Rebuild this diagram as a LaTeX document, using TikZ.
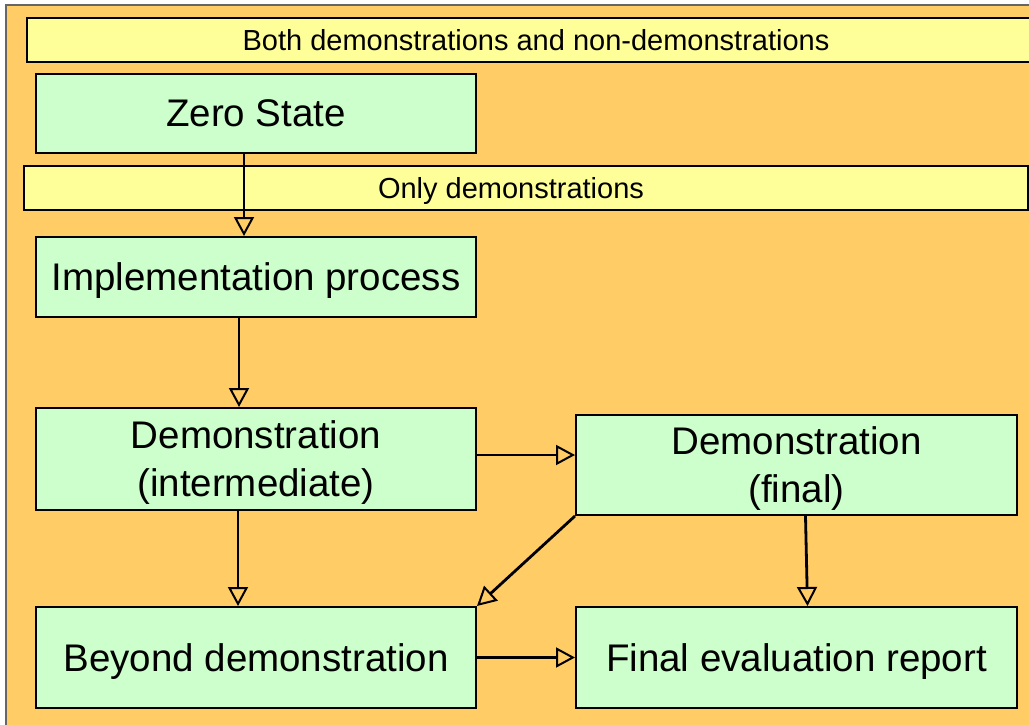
\documentclass[tikz,border=0pt]{standalone}
\usepackage{fontspec}
\setmainfont{Liberation Sans}
\usetikzlibrary{arrows.meta}
\usetikzlibrary{positioning}
\definecolor{bgorange}{HTML}{FFCC66}
\definecolor{bandyellow}{HTML}{FFFF99}
\definecolor{boxgreen}{HTML}{CCFFCC}
\tikzset{
  stage/.style={draw, line width=2pt, fill=boxgreen, align=center, minimum width=440pt,
    text depth=0pt, font=\fontsize{38.5}{48}\selectfont},
  band/.style={draw, line width=2pt, fill=bandyellow, minimum height=44pt, text depth=0pt,
    font=\fontsize{29}{34}\selectfont},
  flow/.style={line width=2.8pt, -{Triangle[open, length=19pt, width=20pt, line width=2pt]}}
}
\begin{document}
\begin{tikzpicture}[x=1pt, y=-1pt]
  \useasboundingbox (0,0) rectangle (1029,725);
  \clip (0,0) rectangle (1029,725);
  \draw [fill=bgorange, draw=black!60, line width=1.5pt] (6,5) rectangle (1060,760);

  \node [band, minimum width=1018pt] (both) at (536,40) {Both demonstrations and non-demonstrations};
  \node [band, minimum width=1004pt] (only) at (526,187.5) {\hspace*{-30pt}Only demonstrations};

  \begin{scope}[every node/.style={stage}]
    \node [minimum height=79pt] (zero) at (256,113.5) {Zero State};
    \node [minimum height=80pt] (impl) at (256,277) {Implementation process};
    \node [minimum height=102pt] (demoint) at (256,459) {Demonstration\\(intermediate)};
    \node [minimum height=100pt, minimum width=441pt] (demofin) at (796.5,465) {Demonstration\\(final)};
    \node [minimum height=101pt] (beyond) at (256,657.5) {Beyond demonstration};
    \node [minimum height=101pt, minimum width=441pt] (report) at (796.5,657.5) {Final evaluation report};
  \end{scope}

  \draw [flow] ([xshift=-12pt]zero.south) -- ([xshift=-12pt]impl.north);
  \draw [flow] ([xshift=-17pt]impl.south) -- ([xshift=-17pt]demoint.north);
  \draw [flow] ([xshift=-18pt]demoint.south) -- ([xshift=-18pt]beyond.north);
  \draw [flow] ([yshift=4pt]demoint.east) -- ([yshift=4pt]demoint.east -| demofin.west);
  \draw [flow] (demofin.south west) -- (beyond.north east);
  \draw [flow] ([xshift=9pt]demofin.south) -- ([xshift=11pt]report.north);
  \draw [flow] (beyond.east) -- (report.west);
\end{tikzpicture}
\end{document}
